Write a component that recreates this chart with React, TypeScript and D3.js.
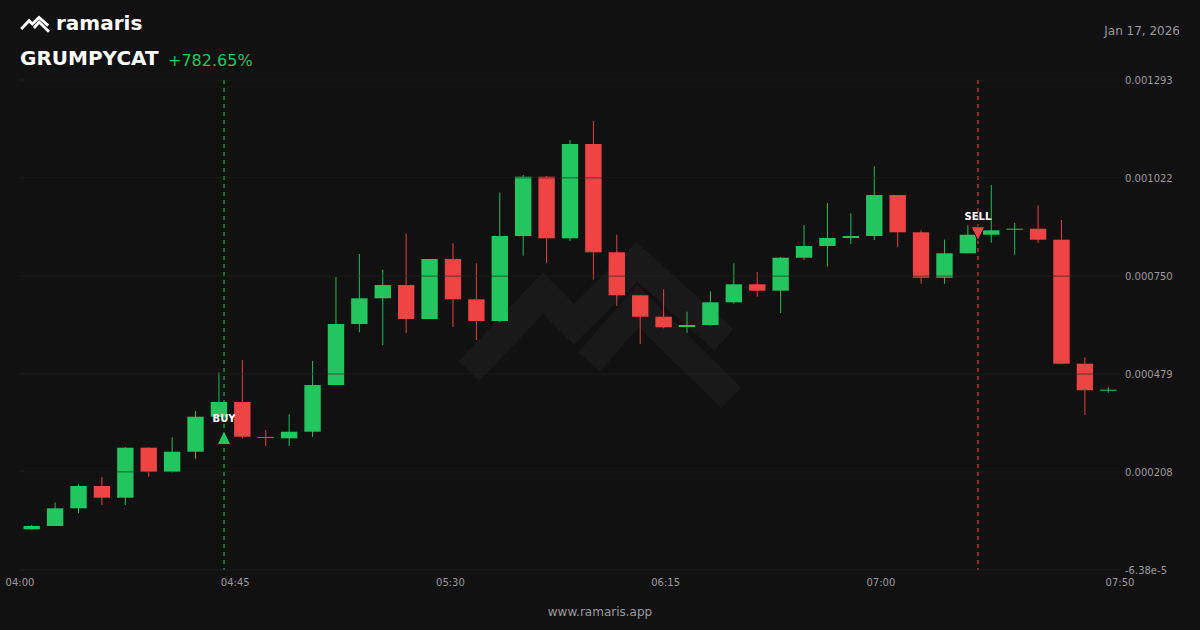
import React, { useRef, useEffect } from "react";
import * as d3 from "d3";

// prices are in millionths (1e-6)
const open = [48.9, 58.0, 107.0, 168.8, 136.4, 274.8, 207.5, 263.7, 360.7, 401.4, 304.4, 300.8, 319.1, 448.4, 617.3, 688.5, 725.3, 631.2, 797.3, 685.7, 625.7, 861.0, 1025.2, 854.6, 1115.8, 815.9, 696.8, 637.6, 609.0, 614.6, 677.4, 727.3, 709.6, 800.9, 833.3, 855.5, 861.0, 974.5, 871.3, 745.5, 813.1, 864.6, 878.5, 881.2, 850.8, 507.4, 432.7];
const close = [58.0, 107.0, 168.8, 136.4, 274.8, 207.5, 263.7, 360.7, 401.4, 305.3, 301.7, 319.1, 448.4, 617.3, 688.5, 725.3, 631.2, 797.3, 685.7, 625.7, 861.0, 1025.2, 854.6, 1115.8, 815.9, 696.8, 637.6, 608.2, 614.6, 677.4, 727.3, 709.6, 800.9, 833.3, 855.5, 861.0, 974.5, 871.3, 745.5, 813.1, 864.6, 876.8, 881.2, 850.8, 507.4, 433.8, 435.4];
const high = [60.8, 123.6, 173.5, 193.7, 276.8, 275.4, 303.6, 376.4, 483.6, 517.7, 323.8, 367.3, 514.9, 747.5, 811.2, 767.7, 867.4, 797.3, 840.8, 785.4, 980.9, 1029.9, 1027.2, 1126.8, 1179.5, 864.6, 697.5, 713.4, 651.4, 707.9, 785.4, 761.3, 802.9, 891.5, 952.4, 923.9, 1054.0, 974.5, 876.8, 850.8, 890.6, 1002.2, 897.0, 946.0, 905.3, 525.1, 442.1];
const low = [48.3, 58.0, 94.0, 116.2, 116.2, 194.5, 206.1, 244.4, 360.7, 300.8, 279.5, 279.5, 304.5, 448.4, 594.4, 559.2, 592.4, 631.2, 609.0, 573.0, 622.1, 806.5, 786.3, 847.2, 740.0, 667.2, 562.0, 605.5, 592.4, 613.2, 673.6, 692.9, 647.8, 794.6, 777.1, 838.9, 849.9, 830.6, 728.9, 728.9, 813.1, 842.5, 809.2, 841.6, 507.4, 365.4, 427.1];

const yTicks = [1293, 1022, 750, 479, 208, -63.8];
const yLabels = ["0.001293", "0.001022", "0.000750", "0.000479", "0.000208", "-6.38e-5"];
const timeTicks = [0, 45, 90, 135, 180, 230]; // minutes after 04:00
const timeLabels = ["04:00", "04:45", "05:30", "06:15", "07:00", "07:50"];

const signals = [
  { label: "BUY", minute: 42.66, price: 303.1, color: "#22c55e" },
  { label: "SELL", minute: 200.3, price: 867.4, color: "#ef4444" },
];

const logoPaths: [number, number][][] = [
  [[469, 371], [543, 293], [574, 324], [637, 262], [724, 340]],
  [[589, 362], [638, 306], [731, 398]],
];

const width = 1200;
const height = 630;
const margin = { top: 80, right: 80, bottom: 60, left: 20 };
const UP = "#22c55e";
const DOWN = "#ef4444";
const MUTED = "#9a9a9a";
const FONT = "'DejaVu Sans', sans-serif";

const App: React.FC = () => {
  const svgRef = useRef<SVGSVGElement>(null);

  useEffect(() => {
    if (!svgRef.current) return;
    const svg = d3.select(svgRef.current);
    svg.selectAll("*").remove();

    const x = d3
      .scaleBand<number>()
      .domain(d3.range(open.length))
      .range([margin.left, width - margin.right])
      .paddingInner(0.3)
      .paddingOuter(0.15);
    const xTime = d3
      .scaleLinear()
      .domain([0, 230])
      .range([margin.left, width - margin.right]);
    const y = d3
      .scaleLinear()
      .domain([-63.8, 1293])
      .range([height - margin.bottom, margin.top]);

    svg.append("rect").attr("width", width).attr("height", height).attr("fill", "#111111");

    // watermark
    const logoLine = d3.line();
    svg
      .append("g")
      .selectAll("path")
      .data(logoPaths)
      .join("path")
      .attr("d", (d) => logoLine(d))
      .attr("fill", "none")
      .attr("stroke", "#191919")
      .attr("stroke-width", 29)
      .attr("stroke-linejoin", "miter");

    // signal lines
    svg
      .append("g")
      .selectAll("line")
      .data(signals)
      .join("line")
      .attr("x1", (d) => xTime(d.minute))
      .attr("x2", (d) => xTime(d.minute))
      .attr("y1", margin.top)
      .attr("y2", height - margin.bottom)
      .attr("stroke", (d) => d.color)
      .attr("stroke-opacity", 0.7)
      .attr("stroke-width", 1.5)
      .attr("stroke-dasharray", "4 4");

    // candles
    const candles = svg
      .append("g")
      .selectAll("g")
      .data(d3.range(open.length))
      .join("g")
      .attr("color", (i) => (close[i] >= open[i] ? UP : DOWN));
    candles
      .append("line")
      .attr("x1", (i) => x(i)! + x.bandwidth() / 2)
      .attr("x2", (i) => x(i)! + x.bandwidth() / 2)
      .attr("y1", (i) => y(high[i]))
      .attr("y2", (i) => y(low[i]))
      .attr("stroke", "currentColor")
      .attr("stroke-opacity", 0.95);
    candles
      .append("rect")
      .attr("x", (i) => x(i)!)
      .attr("width", x.bandwidth())
      .attr("y", (i) => y(Math.max(open[i], close[i])))
      .attr("height", (i) => Math.max(1, Math.abs(y(open[i]) - y(close[i]))))
      .attr("fill", "currentColor");

    // grid sits on top of the candles
    svg
      .append("g")
      .selectAll("line")
      .data(yTicks)
      .join("line")
      .attr("x1", margin.left)
      .attr("x2", width - margin.right)
      .attr("y1", (d) => y(d))
      .attr("y2", (d) => y(d))
      .attr("stroke", "#222222")
      .attr("stroke-opacity", 0.65);

    // signal markers
    const marks = svg
      .append("g")
      .selectAll("g")
      .data(signals)
      .join("g")
      .attr("transform", (d) => `translate(${xTime(d.minute)},${y(d.price)})`);
    marks
      .append("path")
      .attr("d", (d) => (d.label === "BUY" ? "M0,-7L6.8,7L-6.8,7Z" : "M0,7L6.8,-7L-6.8,-7Z"))
      .attr("fill", (d) => d.color)
      .attr("stroke", "#111111")
      .attr("stroke-width", 1);
    marks
      .append("text")
      .attr("text-anchor", "middle")
      .attr("y", (d) => (d.label === "BUY" ? -15.5 : -14))
      .attr("font-size", 10)
      .attr("font-weight", "bold")
      .attr("font-family", FONT)
      .attr("fill", "#ffffff")
      .text((d) => d.label);

    // axes labels
    svg
      .append("g")
      .selectAll("text")
      .data(yTicks)
      .join("text")
      .attr("x", 1125)
      .attr("y", (d) => y(d) + 4)
      .attr("font-size", 10)
      .attr("font-family", FONT)
      .attr("fill", MUTED)
      .text((_, i) => yLabels[i]);
    svg
      .append("g")
      .selectAll("text")
      .data(timeTicks)
      .join("text")
      .attr("x", (d) => xTime(d))
      .attr("y", 585.5)
      .attr("text-anchor", "middle")
      .attr("font-size", 10)
      .attr("font-family", FONT)
      .attr("fill", MUTED)
      .text((_, i) => timeLabels[i]);

    // header
    const logo = svg.append("g").attr("transform", "translate(-28.5,-10.4) scale(0.106)");
    logo
      .selectAll("path")
      .data(logoPaths)
      .join("path")
      .attr("d", (d) => logoLine(d))
      .attr("fill", "none")
      .attr("stroke", "#ffffff")
      .attr("stroke-width", 27);

    const addText = (
      txt: string,
      tx: number,
      ty: number,
      size: number,
      fill: string,
      weight = "normal",
      anchor = "start"
    ) =>
      svg
        .append("text")
        .attr("x", tx)
        .attr("y", ty)
        .attr("font-size", size)
        .attr("font-weight", weight)
        .attr("text-anchor", anchor)
        .attr("font-family", FONT)
        .attr("fill", fill)
        .text(txt);

    addText("ramaris", 56, 30, 20, "#ffffff", "bold");
    addText("GRUMPYCAT", 20, 65, 20, "#ffffff", "bold");
    addText("+782.65%", 168, 65.5, 16, UP);
    addText("Jan 17, 2026", 1180, 35, 12, MUTED, "normal", "end");
    addText("www.ramaris.app", 600, 615.5, 12, MUTED, "normal", "middle");
  }, []);

  return (
    <svg
      ref={svgRef}
      width={width}
      height={height}
      style={{ position: "fixed", left: 0, top: 0, display: "block" }}
    />
  );
};

export default App;
